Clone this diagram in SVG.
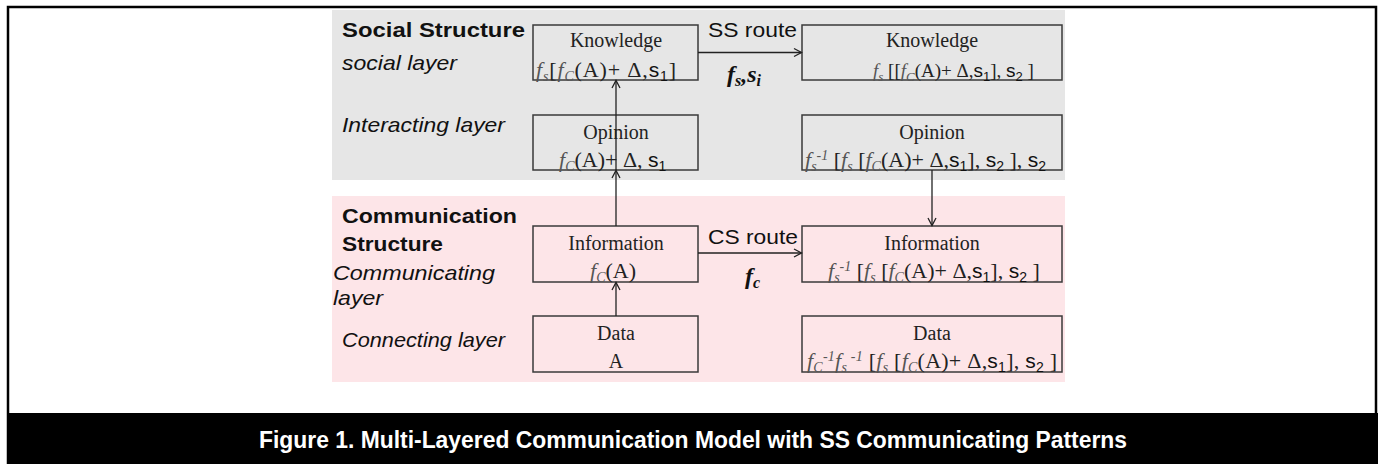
<svg xmlns="http://www.w3.org/2000/svg" width="1384" height="464" viewBox="0 0 1384 464">
<defs>
<style>
.sans{font-family:"Liberation Sans",Arial,sans-serif;font-size:21px;fill:#111}
.b{font-weight:bold}
.it{font-style:italic}
.t{font-family:"Liberation Serif","Times New Roman",serif;font-size:20px;fill:#222}
.f{font-family:"Liberation Serif","Times New Roman",serif;font-size:22px;fill:#222}
.fi{font-style:italic;fill:#555}
.ar{font-family:"Liberation Sans",Arial,sans-serif;fill:#111;font-size:21px}
.sb{font-size:14px}
.bi{font-family:"Liberation Serif","Times New Roman",serif;font-size:24px;font-weight:bold;font-style:italic;fill:#111}
.box{fill:none;stroke:#3a3a3a;stroke-width:1.5}
.conn{stroke:#222;stroke-width:1.3;fill:none;marker-end:url(#arr)}
.cap{font-family:"Liberation Sans",Arial,sans-serif;font-size:24px;font-weight:bold;fill:#fff}
.k2{font-size:19px}
.k2 .ar{font-size:19px}
.k2 .sb{font-size:13px}
</style>
<marker id="arr" viewBox="0 0 9 10" refX="8" refY="5" markerWidth="9" markerHeight="10" markerUnits="userSpaceOnUse" orient="auto" overflow="visible">
<path d="M0.5,1 L8,5 L0.5,9" fill="none" stroke="#222" stroke-width="1.3"/>
</marker>
</defs>

<rect x="0" y="0" width="1384" height="464" fill="#fff"/>
<path d="M8,464 V7 H1376 V464" fill="none" stroke="#000" stroke-width="2.5"/>

<g id="regions">
<rect x="332" y="10" width="733" height="170" fill="#e6e6e6"/>
<rect x="332" y="196" width="733" height="186" fill="#fde5e8"/>
</g>

<g id="labels">
<text class="sans b" x="342" y="37" textLength="183" lengthAdjust="spacingAndGlyphs">Social Structure</text>
<text class="sans it" x="342" y="70" textLength="115" lengthAdjust="spacingAndGlyphs">social layer</text>
<text class="sans it" x="342" y="132" textLength="163" lengthAdjust="spacingAndGlyphs">Interacting layer</text>
<text class="sans b" x="342" y="223" textLength="175" lengthAdjust="spacingAndGlyphs">Communication</text>
<text class="sans b" x="342" y="251" textLength="101" lengthAdjust="spacingAndGlyphs">Structure</text>
<text class="sans it" x="333" y="280" textLength="162" lengthAdjust="spacingAndGlyphs">Communicating</text>
<text class="sans it" x="333" y="305" textLength="50" lengthAdjust="spacingAndGlyphs">layer</text>
<text class="sans it" x="342" y="347" textLength="163" lengthAdjust="spacingAndGlyphs">Connecting layer</text>
</g>

<g id="knowledge-left">
<rect class="box" x="533" y="25" width="165" height="55"/>
<text class="t" x="616" y="47" text-anchor="middle">Knowledge</text>
<text class="f" x="536" y="77" textLength="140" lengthAdjust="spacing"><tspan class="fi">f</tspan><tspan class="fi sb" dy="4">s</tspan><tspan dy="-4">[</tspan><tspan class="fi">f</tspan><tspan class="fi sb" dy="4">C</tspan><tspan dy="-4">(A)+ Δ,</tspan><tspan class="ar">s</tspan><tspan class="ar sb" dy="4">1</tspan><tspan dy="-4">]</tspan></text>
</g>

<g id="opinion-left">
<rect class="box" x="533" y="115" width="165" height="55"/>
<text class="t" x="616" y="139" text-anchor="middle">Opinion</text>
<text class="f" x="559" y="167"><tspan class="fi">f</tspan><tspan class="fi sb" dy="4">C</tspan><tspan dy="-4">(A)+ Δ, </tspan><tspan class="ar">s</tspan><tspan class="ar sb" dy="4">1</tspan></text>
</g>

<g id="information-left">
<rect class="box" x="533" y="226" width="165" height="56"/>
<text class="t" x="616" y="250" text-anchor="middle">Information</text>
<text class="f" x="590" y="278"><tspan class="fi">f</tspan><tspan class="fi sb" dy="4">C</tspan><tspan dy="-4">(A)</tspan></text>
</g>

<g id="data-left">
<rect class="box" x="533" y="316" width="165" height="56"/>
<text class="t" x="616" y="340" text-anchor="middle">Data</text>
<text class="t" x="616" y="368" text-anchor="middle">A</text>
</g>

<g id="knowledge-right">
<rect class="box" x="802" y="25" width="260" height="55"/>
<text class="t" x="932" y="47" text-anchor="middle">Knowledge</text>
<text class="f k2" x="873" y="77"><tspan class="fi">f</tspan><tspan class="fi sb" dy="4">s</tspan><tspan dy="-4"> [[</tspan><tspan class="fi">f</tspan><tspan class="fi sb" dy="4">C</tspan><tspan dy="-4">(A)+ Δ,</tspan><tspan class="ar">s</tspan><tspan class="ar sb" dy="4">1</tspan><tspan dy="-4">], </tspan><tspan class="ar">s</tspan><tspan class="ar sb" dy="4">2</tspan><tspan dy="-4"> ]</tspan></text>
</g>

<g id="opinion-right">
<rect class="box" x="802" y="115" width="260" height="55"/>
<text class="t" x="932" y="139" text-anchor="middle">Opinion</text>
<text class="f" x="805" y="167"><tspan class="fi">f</tspan><tspan class="fi sb" dy="4">s</tspan><tspan class="fi sb" dy="-11">-1</tspan><tspan dy="7"> [</tspan><tspan class="fi">f</tspan><tspan class="fi sb" dy="4">s</tspan><tspan dy="-4"> [</tspan><tspan class="fi">f</tspan><tspan class="fi sb" dy="4">C</tspan><tspan dy="-4">(A)+ Δ,</tspan><tspan class="ar">s</tspan><tspan class="ar sb" dy="4">1</tspan><tspan dy="-4">], </tspan><tspan class="ar">s</tspan><tspan class="ar sb" dy="4">2</tspan><tspan dy="-4"> ], </tspan><tspan class="ar">s</tspan><tspan class="ar sb" dy="4">2</tspan></text>
</g>

<g id="information-right">
<rect class="box" x="802" y="226" width="260" height="56"/>
<text class="t" x="932" y="250" text-anchor="middle">Information</text>
<text class="f" x="828" y="278"><tspan class="fi">f</tspan><tspan class="fi sb" dy="4">s</tspan><tspan class="fi sb" dy="-11">-1</tspan><tspan dy="7"> [</tspan><tspan class="fi">f</tspan><tspan class="fi sb" dy="4">s</tspan><tspan dy="-4"> [</tspan><tspan class="fi">f</tspan><tspan class="fi sb" dy="4">C</tspan><tspan dy="-4">(A)+ Δ,</tspan><tspan class="ar">s</tspan><tspan class="ar sb" dy="4">1</tspan><tspan dy="-4">], </tspan><tspan class="ar">s</tspan><tspan class="ar sb" dy="4">2</tspan><tspan dy="-4"> ]</tspan></text>
</g>

<g id="data-right">
<rect class="box" x="802" y="316" width="260" height="56"/>
<text class="t" x="932" y="340" text-anchor="middle">Data</text>
<text class="f" x="807" y="368" textLength="250" lengthAdjust="spacing"><tspan class="fi">f</tspan><tspan class="fi sb" dy="4">C</tspan><tspan class="fi sb" dy="-11">-1</tspan><tspan class="fi" dy="7">f</tspan><tspan class="fi sb" dy="4">s</tspan><tspan class="fi sb" dy="-11"> -1</tspan><tspan dy="7"> [</tspan><tspan class="fi">f</tspan><tspan class="fi sb" dy="4">s</tspan><tspan dy="-4"> [</tspan><tspan class="fi">f</tspan><tspan class="fi sb" dy="4">C</tspan><tspan dy="-4">(A)+ Δ,</tspan><tspan class="ar">s</tspan><tspan class="ar sb" dy="4">1</tspan><tspan dy="-4">], </tspan><tspan class="ar">s</tspan><tspan class="ar sb" dy="4">2</tspan><tspan dy="-4"> ]</tspan></text>
</g>

<g id="connectors">
<line class="conn" x1="616" y1="170" x2="616" y2="80.5"/>
<line class="conn" x1="616" y1="226" x2="616" y2="170.5"/>
<line class="conn" x1="616" y1="316" x2="616" y2="282.5"/>
<line class="conn" x1="698" y1="52.5" x2="801.5" y2="52.5"/>
<line class="conn" x1="698" y1="253" x2="801.5" y2="253"/>
<line class="conn" x1="932" y1="170" x2="932" y2="225.5"/>
<text class="sans" x="708" y="37" textLength="89" lengthAdjust="spacingAndGlyphs">SS route</text>
<text class="sans" x="708" y="244" textLength="90" lengthAdjust="spacingAndGlyphs">CS route</text>
<text class="bi" x="727" y="82"><tspan>f</tspan><tspan font-size="16" dy="4">s</tspan><tspan dy="-4">,s</tspan><tspan font-size="16" dy="4">i</tspan></text>
<text class="bi" x="745" y="284"><tspan>f</tspan><tspan font-size="16" dy="4">c</tspan></text>
</g>

<g id="caption">
<rect x="7" y="413" width="1371" height="51" fill="#000"/>
<text class="cap" x="259" y="448" textLength="868" lengthAdjust="spacingAndGlyphs">Figure 1. Multi-Layered Communication Model with SS Communicating Patterns</text>
</g>
</svg>
